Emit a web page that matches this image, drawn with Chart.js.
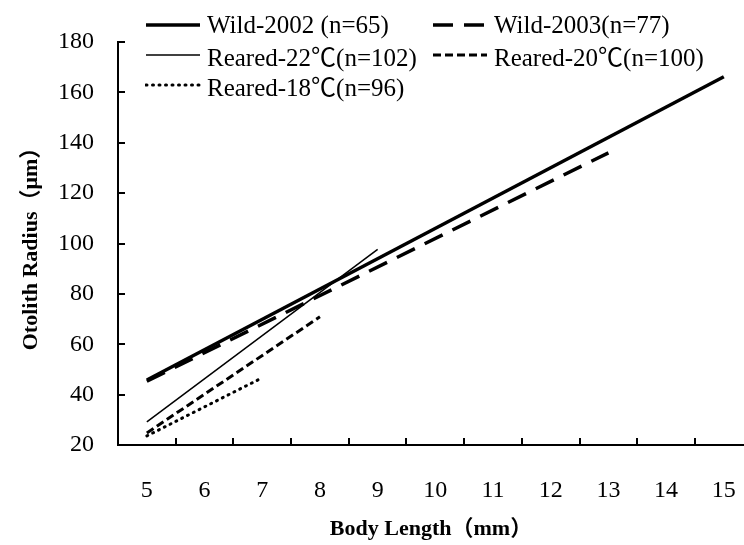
<!DOCTYPE html>
<html>
<head>
<meta charset="utf-8">
<script src="https://cdn.jsdelivr.net/npm/chart.js@4.4.1/dist/chart.umd.min.js"></script>
<style>
  html, body { margin: 0; padding: 0; background: #fff; }
  #wrap { position: relative; width: 744px; height: 545px; overflow: hidden; }
  #legend {
    position: absolute; left: 145px; top: 10px;
    display: grid; grid-template-columns: 287px auto; grid-auto-rows: 30px;
    font: 25px "Liberation Serif", "Noto Sans CJK SC", serif; color: #000;
  }
  .item { display: flex; align-items: center; white-space: nowrap; }
  .item svg { margin-right: 6px; }
</style>
</head>
<body>
<div id="wrap">
  <canvas id="chart" width="744" height="545"></canvas>
  <div id="legend"></div>
</div>
<script>
const seriesNames = ['Wild-2002 (n=65)', 'Wild-2003(n=77)', 'Reared-22℃(n=102)', 'Reared-20℃(n=100)', 'Reared-18℃(n=96)'];

// fitted lines: [body length (mm), otolith radius (µm)]
const wild2002 = [[5, 45.8], [15, 166.2]];
const wild2003 = [[5, 45.3], [13, 136]];
const reared22 = [[5, 29.2], [9, 97.7]];
const reared20 = [[5, 24.8], [8, 70.9]];
const reared18 = [[5, 23.6], [7, 46.7]];

const xTicks = [5, 6, 7, 8, 9, 10, 11, 12, 13, 14, 15];
const yTicks = [20, 40, 60, 80, 100, 120, 140, 160, 180];

const lineWidths = [3.5, 3.5, 1.5, 3, 3];
const lineDashes = [[], [20, 11], [], [8, 4], [1, 5.5]];
const lineCaps = ['butt', 'butt', 'butt', 'butt', 'round'];

const font = '"Liberation Serif", "Noto Sans CJK SC", serif';

const series = [wild2002, wild2003, reared22, reared20, reared18];
const datasets = series.map((pts, i) => ({
    label: seriesNames[i],
    data: pts.map(p => ({ x: p[0], y: p[1] })),
    borderColor: '#000',
    borderWidth: lineWidths[i],
    borderDash: lineDashes[i],
    borderCapStyle: lineCaps[i],
    pointRadius: 0,
    fill: false,
    tension: 0
}));

// Excel-style tick marks pointing into the plot
const inwardTicks = {
    id: 'inwardTicks',
    afterDraw(chart) {
        const { ctx, chartArea, scales: { x, y } } = chart;
        ctx.save();
        ctx.strokeStyle = '#000';
        ctx.lineWidth = 2;
        ctx.beginPath();
        for (let i = 0; i < xTicks.length - 1; i++) {
            const px = Math.round(x.getPixelForValue(xTicks[i] + 0.5));
            ctx.moveTo(px, chartArea.bottom);
            ctx.lineTo(px, chartArea.bottom - 7);
        }
        yTicks.forEach(v => {
            const py = Math.round(y.getPixelForValue(v));
            ctx.moveTo(chartArea.left, py);
            ctx.lineTo(chartArea.left + 7, py);
        });
        ctx.stroke();
        ctx.restore();
    }
};

const chart = new Chart(document.getElementById('chart'), {
    type: 'line',
    data: { datasets },
    options: {
        responsive: false,
        animation: false,
        layout: { padding: { left: 0, top: 42, right: 0, bottom: 2 } },
        plugins: {
            legend: { display: false },
            tooltip: { enabled: false }
        },
        scales: {
            x: {
                type: 'linear',
                min: 4.5,
                max: 15.35,
                afterBuildTicks: s => { s.ticks = xTicks.map(v => ({ value: v })); },
                afterFit: s => { s.height = 98; s.paddingLeft = 0; s.paddingRight = 0; },
                grid: { display: false, drawTicks: false },
                border: { display: true, color: '#000', width: 2 },
                ticks: { color: '#000', font: { family: font, size: 24 }, padding: 31 },
                title: {
                    display: true,
                    text: 'Body Length（mm）',
                    color: '#000',
                    font: { family: font, size: 22, weight: 'bold' },
                    padding: { top: 0, bottom: 0 }
                }
            },
            y: {
                min: 20,
                max: 180,
                afterBuildTicks: s => { s.ticks = yTicks.map(v => ({ value: v })); },
                afterFit: s => { s.width = 118; },
                grid: { display: false, drawTicks: false },
                border: { display: true, color: '#000', width: 2 },
                ticks: { color: '#000', font: { family: font, size: 24 }, padding: 24 },
                title: {
                    display: true,
                    text: 'Otolith Radius（μm）',
                    color: '#000',
                    font: { family: font, size: 22, weight: 'bold' },
                    padding: { top: 18, bottom: 0 }
                }
            }
        }
    },
    plugins: [inwardTicks]
});

// legend laid out as Excel does: two columns, samples in front of the text
const legendEl = document.getElementById('legend');
chart.data.datasets.forEach(ds => {
    const item = document.createElement('div');
    item.className = 'item';
    const dash = ds.borderDash.length ? ds.borderDash.join(' ') : 'none';
    item.innerHTML =
        '<svg width="56" height="8"><line x1="1" y1="4" x2="55" y2="4" stroke="#000" stroke-width="' +
        ds.borderWidth + '" stroke-dasharray="' + dash + '" stroke-linecap="' + ds.borderCapStyle + '"/></svg>' +
        '<span>' + ds.label + '</span>';
    legendEl.appendChild(item);
});
</script>
</body>
</html>
